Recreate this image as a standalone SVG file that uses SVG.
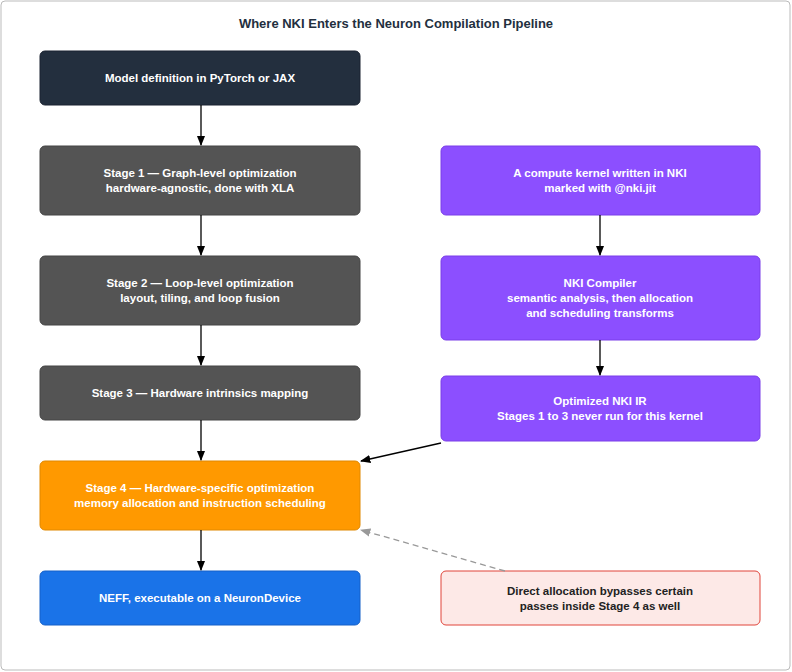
<svg xmlns="http://www.w3.org/2000/svg" width="792" height="672" viewBox="0 0 792 672">
<style>
.t{font-family:"Liberation Sans",Arial,sans-serif;font-size:11.5px;font-weight:bold;fill:#fff;text-anchor:middle}
.d{fill:#222}
.c{stroke:#000;stroke-width:1.3;fill:none}
</style>
<defs>
<marker id="a" viewBox="0 0 10 10" refX="9" refY="5" markerWidth="8" markerHeight="8" orient="auto"><path d="M0,1L10,5L0,9z" fill="#000"/></marker>
<marker id="g" viewBox="0 0 10 10" refX="9" refY="5" markerWidth="8" markerHeight="8" orient="auto"><path d="M0,1L10,5L0,9z" fill="#999"/></marker>
</defs>
<rect x="1" y="1" width="789" height="669" rx="4" fill="#fff" stroke="#bbb"/>
<text x="396" y="28" class="t" style="fill:#232f3e;font-size:13px">Where NKI Enters the Neuron Compilation Pipeline</text>
<g id="n1"><rect x="40" y="51" width="320" height="54" rx="5" fill="#232f3e" stroke="#1a2230"/><text x="200" y="82" class="t">Model definition in PyTorch or JAX</text></g>
<g id="n2"><rect x="40" y="146" width="320" height="69" rx="5" fill="#545454" stroke="#444"/><text x="200" y="177" class="t">Stage 1 — Graph-level optimization</text><text x="200" y="192" class="t">hardware-agnostic, done with XLA</text></g>
<g id="n3"><rect x="40" y="256" width="320" height="69" rx="5" fill="#545454" stroke="#444"/><text x="200" y="287" class="t">Stage 2 — Loop-level optimization</text><text x="200" y="302" class="t">layout, tiling, and loop fusion</text></g>
<g id="n4"><rect x="40" y="366" width="320" height="54" rx="5" fill="#545454" stroke="#444"/><text x="200" y="397" class="t">Stage 3 — Hardware intrinsics mapping</text></g>
<g id="n5"><rect x="40" y="461" width="320" height="69" rx="5" fill="#ff9900" stroke="#e08800"/><text x="200" y="492" class="t">Stage 4 — Hardware-specific optimization</text><text x="200" y="507" class="t">memory allocation and instruction scheduling</text></g>
<g id="n6"><rect x="40" y="571" width="320" height="54" rx="5" fill="#1a73e8" stroke="#1560c8"/><text x="200" y="602" class="t">NEFF, executable on a NeuronDevice</text></g>
<g id="r1"><rect x="441" y="146" width="319" height="69" rx="5" fill="#8c4fff" stroke="#7a3ee8"/><text x="600" y="177" class="t">A compute kernel written in NKI</text><text x="600" y="192" class="t">marked with @nki.jit</text></g>
<g id="r2"><rect x="441" y="256" width="319" height="84" rx="5" fill="#8c4fff" stroke="#7a3ee8"/><text x="600" y="287" class="t">NKI Compiler</text><text x="600" y="302" class="t">semantic analysis, then allocation</text><text x="600" y="317" class="t">and scheduling transforms</text></g>
<g id="r3"><rect x="441" y="376" width="319" height="65" rx="5" fill="#8c4fff" stroke="#7a3ee8"/><text x="600" y="405" class="t">Optimized NKI IR</text><text x="600" y="420" class="t">Stages 1 to 3 never run for this kernel</text></g>
<g id="r4"><rect x="441" y="571" width="319" height="54" rx="5" fill="#fde9e7" stroke="#e0443a"/><text x="600" y="595" class="t d">Direct allocation bypasses certain</text><text x="600" y="610" class="t d">passes inside Stage 4 as well</text></g>
<g id="connectors">
<path class="c" marker-end="url(#a)" d="M201,105V145"/>
<path class="c" marker-end="url(#a)" d="M201,215V255"/>
<path class="c" marker-end="url(#a)" d="M201,325V365"/>
<path class="c" marker-end="url(#a)" d="M201,420V460"/>
<path class="c" marker-end="url(#a)" d="M201,530V570"/>
<path class="c" marker-end="url(#a)" d="M600,215V255"/>
<path class="c" marker-end="url(#a)" d="M600,340V375"/>
<path class="c" marker-end="url(#a)" d="M441,443L361,461"/>
<path d="M505,571L361,530" stroke="#999" stroke-width="1.3" stroke-dasharray="6,4" fill="none" marker-end="url(#g)"/>
</g>
</svg>
